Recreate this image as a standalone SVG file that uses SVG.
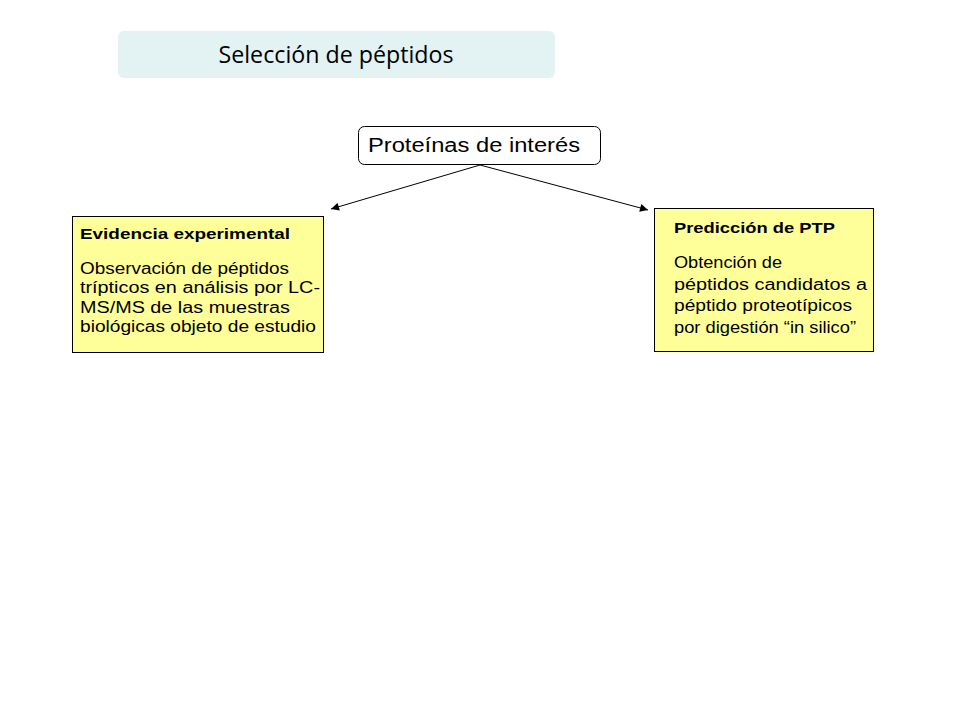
<svg xmlns="http://www.w3.org/2000/svg" width="960" height="720" viewBox="0 0 960 720">
<style>
.box{fill:#ffff99;stroke:#000;stroke-width:1}
.t{font-family:"Liberation Sans",Arial,sans-serif;fill:#000}
.h{font-size:15px;font-weight:bold}
.b{font-size:16px}
.conn{stroke:#000;stroke-width:1;fill:none}
</style>
<defs>
<marker id="ah" viewBox="0 0 10 10" refX="10" refY="5" markerWidth="10" markerHeight="8" markerUnits="userSpaceOnUse" orient="auto">
<path d="M0,0 L10,5 L0,10 z" fill="#000"/>
</marker>
</defs>
<rect width="960" height="720" fill="#fff"/>
<g id="title">
<rect x="118" y="31" width="437" height="47" rx="6" fill="#e3f2f2"/>
<text x="336" y="63" text-anchor="middle" font-family="'Open Sans','Noto Sans',sans-serif" font-size="24" fill="#000" textLength="235" lengthAdjust="spacingAndGlyphs">Selección de péptidos</text>
</g>
<g id="proteinas">
<rect x="358.5" y="126.5" width="242" height="38" rx="6" fill="#fff" stroke="#000"/>
<text class="t" x="368" y="152" font-size="20" textLength="212" lengthAdjust="spacingAndGlyphs">Proteínas de interés</text>
</g>
<g id="connectors">
<line class="conn" x1="480" y1="165" x2="331" y2="209" marker-end="url(#ah)"/>
<line class="conn" x1="480" y1="165" x2="648" y2="210" marker-end="url(#ah)"/>
</g>
<g id="evidencia">
<rect class="box" x="72.5" y="216.5" width="251" height="136"/>
<text class="t h" x="80" y="239" textLength="210" lengthAdjust="spacingAndGlyphs">Evidencia experimental</text>
<text class="t b" x="80" y="274" textLength="209" lengthAdjust="spacingAndGlyphs">Observación de péptidos</text>
<text class="t b" x="80" y="293" textLength="240" lengthAdjust="spacingAndGlyphs">trípticos en análisis por LC-</text>
<text class="t b" x="80" y="313" textLength="210" lengthAdjust="spacingAndGlyphs">MS/MS de las muestras</text>
<text class="t b" x="80" y="332" textLength="236" lengthAdjust="spacingAndGlyphs">biológicas objeto de estudio</text>
</g>
<g id="prediccion">
<rect class="box" x="654.5" y="208.5" width="219" height="143"/>
<text class="t h" x="674" y="233" textLength="161" lengthAdjust="spacingAndGlyphs">Predicción de PTP</text>
<text class="t b" x="674" y="268" textLength="108" lengthAdjust="spacingAndGlyphs">Obtención de</text>
<text class="t b" x="674" y="290" textLength="193" lengthAdjust="spacingAndGlyphs">péptidos candidatos a</text>
<text class="t b" x="674" y="311" textLength="178" lengthAdjust="spacingAndGlyphs">péptido proteotípicos</text>
<text class="t b" x="674" y="333" textLength="182" lengthAdjust="spacingAndGlyphs">por digestión “in silico”</text>
</g>
</svg>
